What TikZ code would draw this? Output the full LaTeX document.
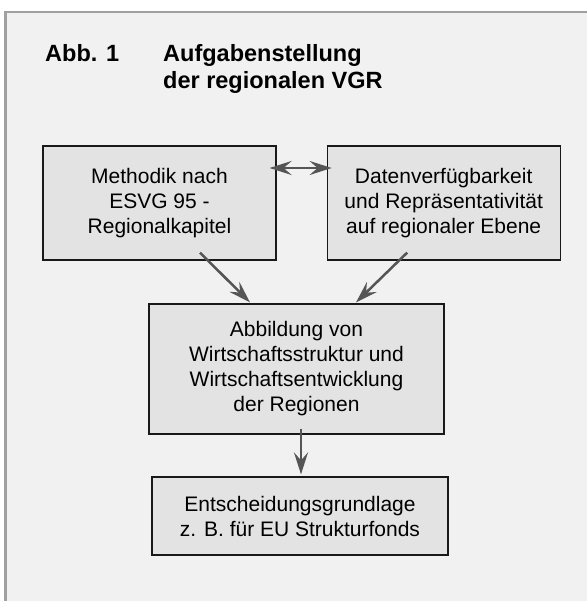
\documentclass[tikz,border=0pt]{standalone}
\usepackage{fontspec}
\setmainfont{Liberation Sans}
\usetikzlibrary{positioning,arrows.meta,calc}
\definecolor{framegray}{HTML}{A0A0A0}
\definecolor{panel}{HTML}{F1F1F1}
\definecolor{boxfill}{HTML}{E3E3E3}
\definecolor{arrowgray}{HTML}{555555}
\tikzset{%
  arrow/.style    = { -{Stealth[length = 22pt, width = 14pt, inset = 8pt]}, line width = 2.5pt, draw = arrowgray },
  darrow/.style   = { {Stealth[length = 22pt, width = 14pt, inset = 8pt]}-{Stealth[length = 22pt, width = 14pt, inset = 8pt]},
                      line width = 2.5pt, draw = arrowgray },
  tbox/.style     = { fill = boxfill, draw = black!90, line width = 1.2pt, align = center, inner sep = 0pt,
                      font = \fontsize{21}{25}\selectfont, minimum width = #1 },
  head/.style     = { anchor = base west, inner sep = 0pt, align = left,
                      font = \fontsize{23.5}{27}\selectfont\bfseries }
}

\begin{document}
\begin{tikzpicture}[x=1pt, y=-1pt]
\useasboundingbox (0,0) rectangle (587,601);
\fill[white] (0,0) rectangle (587,601);
\fill[panel] (5.5,12) rectangle (587,601);
\draw[framegray, line width = 2.5pt] (5.5,601) -- (5.5,12) -- (587,12);

% title (base = last line)
\node(nr)  [head] at (45,62)  {Abb. 1};
\node(ttl) [head] at (163,89) {Aufgabenstellung\\der regionalen VGR};

% boxes
\node(M) [tbox=233pt, minimum height = 114pt] at (159.5,203) {Methodik nach\\ESVG 95 -\\Regionalkapitel};
\node(D) [tbox=233pt, minimum height = 114pt, right = 50pt of M] {Datenverfügbarkeit\\und Repräsentativität\\auf regionaler Ebene};
\node(W) [tbox=295pt, minimum height = 130pt] at (296.5,369) {Abbildung von\\Wirtschaftsstruktur und\\Wirtschaftsentwicklung\\der Regionen};
\node(E) [tbox=296pt, minimum height = 78pt] at (300,516) {Entscheidungsgrundlage\\z. B. für EU Strukturfonds};

% connectors
\draw[darrow] ($(M.east)+(-7,-35)$) -- ($(D.west)+(5,-35)$);
\draw[arrow] ($(M.south)+(40.5,-8)$)  -- ($(W.north)+(-46.5,-1)$);
\draw[arrow] ($(D.south)+(-36.5,-8)$) -- ($(W.north)+(59.5,-1)$);
\draw[arrow] ($(W.south)+(4.5,-6)$)   -- ($(E.north)+(1,-2)$);
\end{tikzpicture}
\end{document}
